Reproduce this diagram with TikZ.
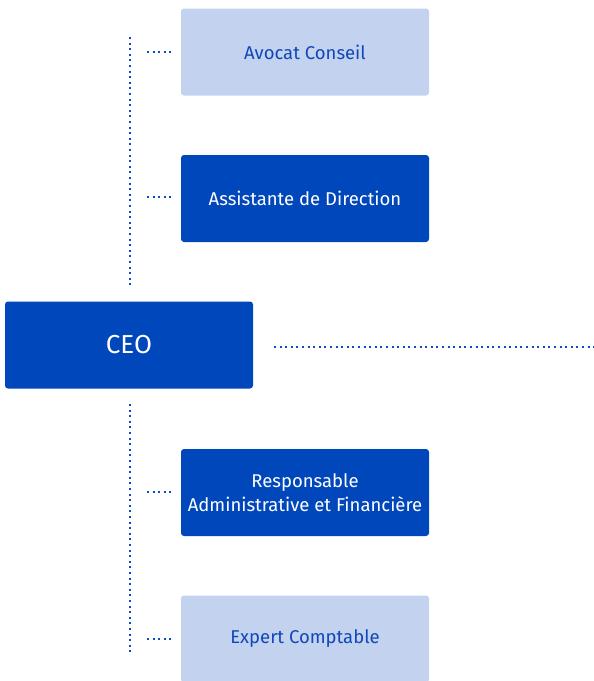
\documentclass[tikz,border=0pt]{standalone}
\usepackage{fontspec}
\setmainfont{Fira Sans}
\definecolor{darkbox}{HTML}{0047BB}
\definecolor{lightbox}{HTML}{C2D2EF}
\definecolor{bluetext}{HTML}{1048B8}
\definecolor{dotblue}{HTML}{0D4BC4}
\begin{document}
\begin{tikzpicture}[x=1pt,y=-1pt,
  box/.style={rounded corners=3pt, minimum width=248pt, minimum height=87pt, inner sep=0pt, align=center, font=\fontsize{18.5}{23.5}\selectfont},
  darkb/.style={box, fill=darkbox, text=white},
  lightb/.style={box, fill=lightbox, text=bluetext},
  dotline/.style={draw=dotblue, line width=2pt, dash pattern=on 2pt off 3.6pt}]
\useasboundingbox (0,0) rectangle (594,681);
\node[lightb] (avocat) at (305,52) {Avocat Conseil};
\node[darkb] (assist) at (305,198.5) {Assistante de Direction};
\node[darkb, font=\fontsize{26}{30}\selectfont] (ceo) at (129,345) {CEO};
\node[darkb] (resp) at (305,492.5) {Responsable\\Administrative et Financière};
\node[lightb] (expert) at (305,639) {Expert Comptable};
\coordinate (t1) at (130,37);
\coordinate (t2) at (130,287);
\coordinate (b1) at (130,404);
\coordinate (b2) at (130,653);
\coordinate (r1) at (274,347);
\coordinate (r2) at (594,347);
\coordinate (a1) at (147,52);  \coordinate (a2) at (171,52);
\coordinate (s1) at (147,197); \coordinate (s2) at (171,197);
\coordinate (p1) at (147,492); \coordinate (p2) at (171,492);
\coordinate (e1) at (147,639); \coordinate (e2) at (171,639);
\draw[dotline] (t1) -- (t2);
\draw[dotline] (b1) -- (b2);
\draw[dotline] (r1) -- (r2);
\draw[dotline] (a1) -- (a2);
\draw[dotline] (s1) -- (s2);
\draw[dotline] (p1) -- (p2);
\draw[dotline] (e1) -- (e2);
\end{tikzpicture}
\end{document}
